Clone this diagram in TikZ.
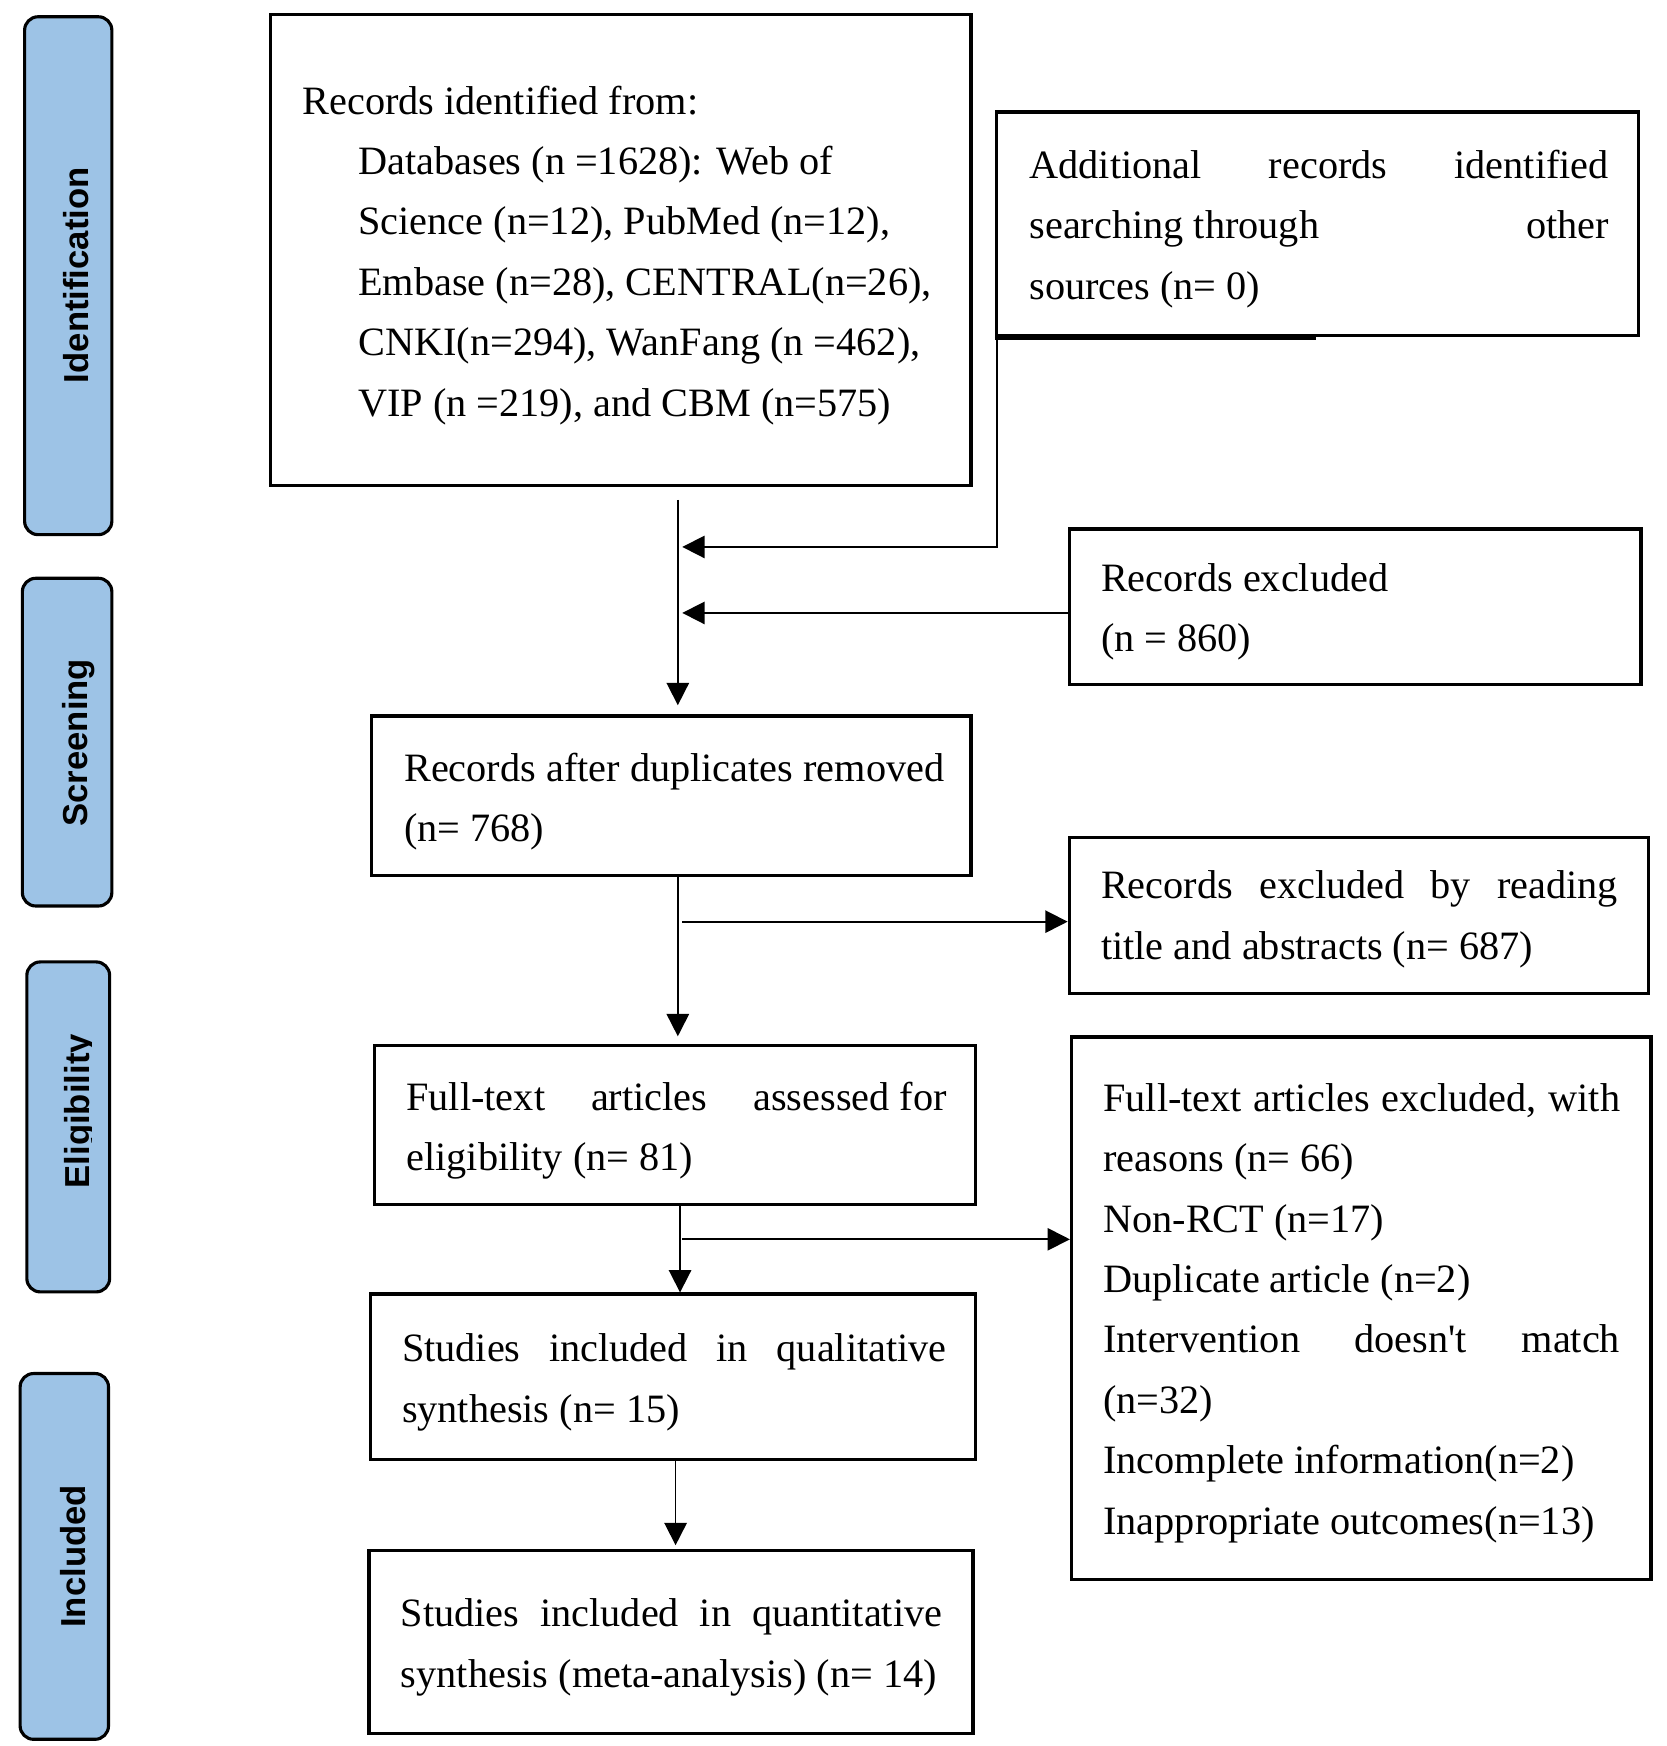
\documentclass[tikz,border=0pt]{standalone}
\usepackage{fontspec}
\newfontfamily\tnr{Liberation Serif}
\newfontfamily\arl{Liberation Sans}
\usetikzlibrary{arrows.meta,fit,calc}
\definecolor{phasefill}{RGB}{157,195,230}
\begin{document}
\begin{tikzpicture}[x=0.5pt,y=-0.5pt,
  box/.style={draw, line width=1.5pt, inner sep=0pt},
  phase/.style={draw, line width=1.4pt, fill=phasefill, rounded corners=6pt, inner sep=0pt},
  ptext/.style={rotate=90, anchor=base, inner sep=0pt, font=\arl\bfseries\fontsize{15.5}{18}\selectfont},
  txt/.style={anchor=base west, inner sep=0pt, font=\tnr\fontsize{18}{27}\selectfont},
  conn/.style={line width=0.8pt, -{Triangle[length=10pt,width=10pt]}},
]
\useasboundingbox (0,0) rectangle (1490,1561);

% phase boxes
\node[phase, fit={(22,15) (100,478)}] (P1) {};
\node[phase, fit={(20,517) (100,810)}] (P2) {};
\node[phase, fit={(24,860) (98,1155)}] (P3) {};
\node[phase, fit={(18,1228) (97,1555)}] (P4) {};
\node[ptext] (L1) at (79,246) {Identification};
\node[ptext] (L2) at (78,664) {Screening};
\begin{scope}
  \clip (20,900) rectangle (81.5,1100);
  \node[ptext] (L3) at (80,993.5) {Eligibility};
\end{scope}
\node[ptext] (L4) at (76,1391.5) {Included};

% main boxes
\node[box, fit={(242,13) (868,434)}] (A) {};
\node[box, fit={(891,100) (1465,300)}] (B) {};
\node[box, fit={(956,473) (1467,612)}] (C) {};
\node[box, fit={(332,640) (868,783)}] (D) {};
\node[box, fit={(956,749) (1474,888)}] (E) {};
\node[box, fit={(335,935) (872,1077)}] (F) {};
\node[box, fit={(958,927) (1476,1412)}] (G) {};
\node[box, fit={(331,1157) (872,1305)}] (H) {};
\node[box, fit={(330,1386) (870,1550)}] (I) {};
\draw[line width=1.5pt] ([yshift=-0.6pt]B.south west) -- ++(287,0);

% texts
\node[txt] (At) at (270,102) {\parbox[t]{300pt}{Records identified from:\\
  \hspace*{25pt}Databases (n =1628): Web of\\
  \hspace*{25pt}Science (n=12), PubMed (n=12),\\
  \hspace*{25pt}Embase (n=28), CENTRAL(n=26),\\
  \hspace*{25pt}CNKI(n=294), WanFang (n =462),\\
  \hspace*{25pt}VIP (n =219), and CBM (n=575)}};
\node[txt] (Bt) at (920,159.5) {\parbox[t]{259pt}{\makebox[\linewidth][s]{Additional records identified}\\
  \makebox[\linewidth][s]{searching through\hfill other}\\
  sources (n= 0)}};
\node[txt] (Ct) at (984,528.5) {\parbox[t]{240pt}{Records excluded\\(n = 860)}};
\node[txt] (Dt) at (361,698.5) {\parbox[t]{250pt}{Records after duplicates removed\\(n= 768)}};
\node[txt] (Et) at (984,803.5) {\parbox[t]{231pt}{\makebox[\linewidth][s]{Records excluded by reading}\\
  title and abstracts (n= 687)}};
\node[txt] (Ft) at (363,992.5) {\parbox[t]{241.5pt}{\makebox[\linewidth][s]{Full-text\hfill articles\hfill assessed for}\\
  eligibility (n= 81)}};
\node[txt] (Gt) at (986,993.5) {\parbox[t]{231pt}{\makebox[\linewidth][s]{Full-text articles excluded, with}\\
  reasons (n= 66)\\
  Non-RCT (n=17)\\
  Duplicate article (n=2)\\
  \makebox[\linewidth][s]{Intervention doesn't match}\\
  (n=32)\\
  Incomplete information(n=2)\\
  Inappropriate outcomes(n=13)}};
\node[txt] (Ht) at (359,1217.5) {\parbox[t]{243.5pt}{\makebox[\linewidth][s]{Studies included in qualitative}\\
  synthesis (n= 15)}};
\node[txt] (It) at (358,1454.5) {\parbox[t]{242pt}{\makebox[\linewidth][s]{Studies included in quantitative}\\
  synthesis (meta-analysis) (n= 14)}};

% connectors
\coordinate (m0) at (606,447);
\coordinate (j1) at (606,489);
\coordinate (c0) at ([yshift=-2.75pt]C.west);
\coordinate (j2) at (610,824);
\coordinate (m2) at (608,1077);
\coordinate (j3) at (610,1108);
\coordinate (m3) at (604,1305);
\draw[conn, shorten >=4pt] (m0) -- (m0 |- D.north);
\draw[conn, shorten >=2pt] ([xshift=1pt]B.south west) |- (j1);
\draw[conn, shorten >=2pt] (c0) -- (c0 -| j1);
\draw[conn, shorten >=3.5pt] (m0 |- D.south) -- (m0 |- F.north);
\draw[conn] (j2) -- (j2 -| E.west);
\draw[conn] (m2 |- F.south) -- (m2 |- H.north);
\draw[conn] (j3) -- (j3 -| G.west);
\draw[conn, shorten >=1.5pt] (m3 |- H.south) -- (m3 |- I.north);
\end{tikzpicture}
\end{document}
